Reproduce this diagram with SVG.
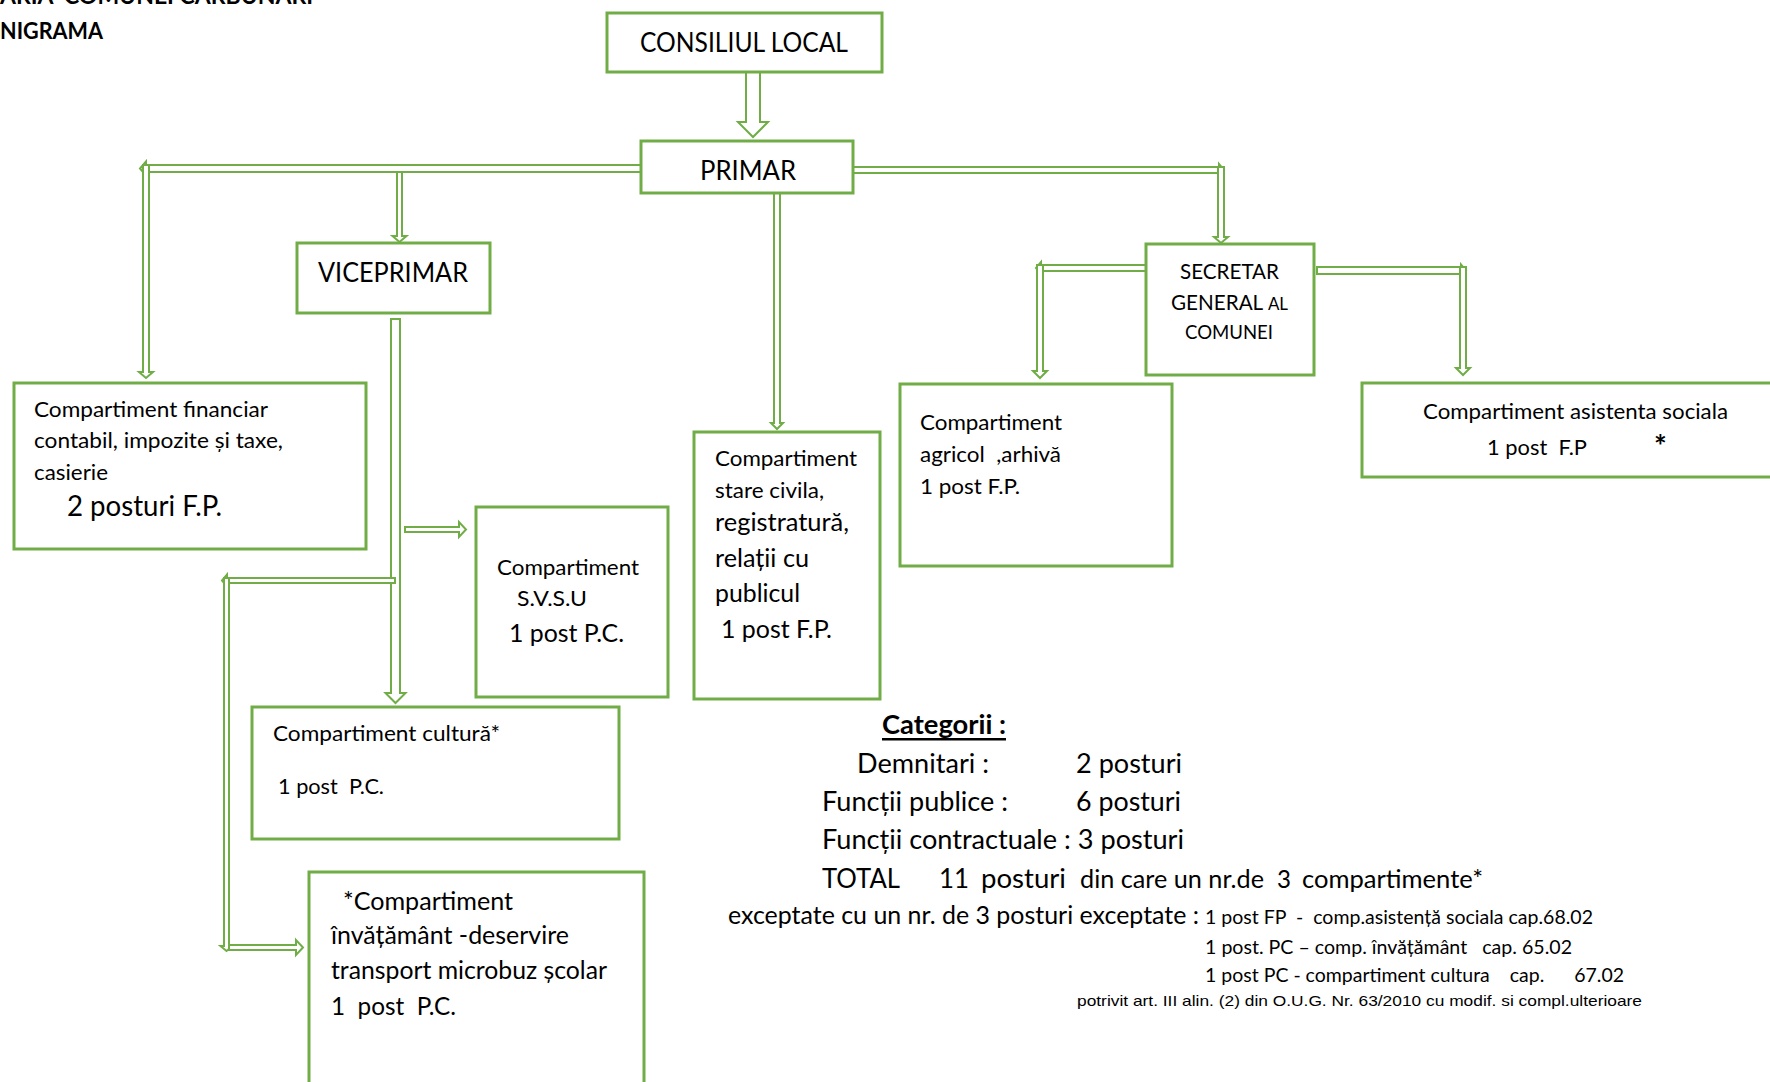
<svg xmlns="http://www.w3.org/2000/svg" width="1770" height="1082" viewBox="0 0 1770 1082">
<style>
.box{fill:#fff;stroke:#70AD47;stroke-width:3}
.arr{fill:#fff;stroke:#70AD47;stroke-width:2;stroke-linejoin:miter}
text{font-family:Lato,"Liberation Sans",sans-serif;fill:#000;white-space:pre}
.b{font-weight:bold}
.big{font-size:27px}
.s22{font-size:22px}
.s24{font-size:24.5px}
.cat{font-size:27px}
.note{font-size:19px}
.law{font-family:"Liberation Sans",Arial,sans-serif;font-size:15px}
</style>
<rect width="1770" height="1082" fill="#fff"/>
<g id="title">
<text class="b" x="0" y="4" font-size="23" textLength="313" lengthAdjust="spacingAndGlyphs">ARIA  COMUNEI CARBUNARI</text>
<text class="b" x="0" y="39" font-size="23" textLength="103" lengthAdjust="spacingAndGlyphs">NIGRAMA</text>
</g>
<g id="connectors">
<path class="arr" d="M746,72 L760,72 L760,122 L768,122 L753,137 L738,122 L746,122 Z"/>
<path class="arr" d="M641,165 L146,165 L146,161.5 L140,168.5 L146,175.5 L146,172 L641,172 Z"/>
<path class="arr" d="M143,165 L149,165 L149,372 L153,372 L146,378 L139,372 L143,372 Z"/>
<path class="arr" d="M397,172 L402,172 L402,236 L406.5,236 L399.5,242 L392.5,236 L397,236 Z"/>
<path class="arr" d="M774,193 L780,193 L780,423 L783,423 L777,429 L771,423 L774,423 Z"/>
<path class="arr" d="M853,167 L1219,167 L1219,164 L1224,170 L1219,176 L1219,173 L853,173 Z"/>
<path class="arr" d="M1218,167 L1224,167 L1224,237 L1228,237 L1221,243 L1214,237 L1218,237 Z"/>
<path class="arr" d="M1146,265 L1041,265 L1041,262 L1036,268 L1041,274 L1041,271 L1146,271 Z"/>
<path class="arr" d="M1037,265 L1043,265 L1043,371 L1047,371 L1040,378 L1033,371 L1037,371 Z"/>
<path class="arr" d="M1317,267 L1461,267 L1461,264.5 L1466,270.5 L1461,276.5 L1461,274 L1317,274 Z"/>
<path class="arr" d="M1460,267 L1466,267 L1466,368 L1470,368 L1463,375 L1456,368 L1460,368 Z"/>
<path class="arr" d="M391,319 L400,319 L400,693 L405.5,693 L395.5,703 L385.5,693 L391,693 Z"/>
<path class="arr" d="M405,527 L459,527 L459,522 L466,529.5 L459,537 L459,532 L405,532 Z"/>
<path class="arr" d="M395,578 L227,578 L227,574.5 L222,580.5 L227,586.5 L227,583 L395,583 Z"/>
<path class="arr" d="M224,578 L229,578 L229,946 L232.5,946 L226.5,951 L220.5,946 L224,946 Z"/>
<path class="arr" d="M229,945 L296,945 L296,940 L303,947.5 L296,955 L296,950 L229,950 Z"/>
</g>
<g id="consiliul-local">
<rect class="box" x="607" y="13" width="275" height="59"/>
<text class="big" x="640" y="52" textLength="208" lengthAdjust="spacingAndGlyphs">CONSILIUL LOCAL</text>
</g>
<g id="primar">
<rect class="box" x="641" y="141" width="212" height="52"/>
<text class="big" x="700" y="180" textLength="96" lengthAdjust="spacingAndGlyphs">PRIMAR</text>
</g>
<g id="viceprimar">
<rect class="box" x="297" y="243" width="193" height="70"/>
<text class="big" x="318" y="282" textLength="150" lengthAdjust="spacingAndGlyphs">VICEPRIMAR</text>
</g>
<g id="secretar">
<rect class="box" x="1146" y="244" width="168" height="131"/>
<text class="s22" x="1180" y="279" textLength="99" lengthAdjust="spacingAndGlyphs">SECRETAR</text>
<text class="s22" x="1171" y="310" textLength="117" lengthAdjust="spacingAndGlyphs">GENERAL <tspan font-size="18">AL</tspan></text>
<text x="1185" y="339" font-size="20" textLength="88" lengthAdjust="spacingAndGlyphs">COMUNEI</text>
</g>
<g id="financiar">
<rect class="box" x="14" y="383" width="352" height="166"/>
<text class="s22" x="34" y="417" textLength="234" lengthAdjust="spacingAndGlyphs">Compartiment financiar</text>
<text class="s22" x="34" y="448" textLength="249" lengthAdjust="spacingAndGlyphs">contabil, impozite și taxe,</text>
<text class="s22" x="34" y="480" textLength="74" lengthAdjust="spacingAndGlyphs">casierie</text>
<text x="67" y="516" font-size="28.5" textLength="155" lengthAdjust="spacingAndGlyphs">2 posturi F.P.</text>
</g>
<g id="svsu">
<rect class="box" x="476" y="507" width="192" height="190"/>
<text class="s22" x="497" y="575" textLength="142" lengthAdjust="spacingAndGlyphs">Compartiment</text>
<text class="s22" x="517" y="606" textLength="70" lengthAdjust="spacingAndGlyphs">S.V.S.U</text>
<text x="509" y="642" font-size="24.5" textLength="115" lengthAdjust="spacingAndGlyphs">1 post P.C.</text>
</g>
<g id="cultura">
<rect class="box" x="252" y="707" width="367" height="132"/>
<text class="s22" x="273" y="741" textLength="227" lengthAdjust="spacingAndGlyphs">Compartiment cultură*</text>
<text class="s22" x="278" y="794" textLength="106" lengthAdjust="spacingAndGlyphs">1 post  P.C.</text>
</g>
<g id="invatamant">
<rect class="box" x="309" y="872" width="335" height="230"/>
<text class="s24" x="343" y="910" textLength="170" lengthAdjust="spacingAndGlyphs">*Compartiment</text>
<text class="s24" x="331" y="944" textLength="238" lengthAdjust="spacingAndGlyphs">învățământ -deservire</text>
<text class="s24" x="331" y="979" textLength="276" lengthAdjust="spacingAndGlyphs">transport microbuz școlar</text>
<text class="s24" x="331" y="1015" textLength="125" lengthAdjust="spacingAndGlyphs">1  post  P.C.</text>
</g>
<g id="stare-civila">
<rect class="box" x="694" y="432" width="186" height="267"/>
<text class="s22" x="715" y="466" textLength="142" lengthAdjust="spacingAndGlyphs">Compartiment</text>
<text class="s22" x="715" y="498" textLength="109" lengthAdjust="spacingAndGlyphs">stare civila,</text>
<text class="s24" x="715" y="531" textLength="134" lengthAdjust="spacingAndGlyphs">registratură,</text>
<text class="s24" x="715" y="567" textLength="94" lengthAdjust="spacingAndGlyphs">relații cu</text>
<text class="s24" x="715" y="602" textLength="85" lengthAdjust="spacingAndGlyphs">publicul</text>
<text class="s24" x="721" y="638" textLength="111" lengthAdjust="spacingAndGlyphs">1 post F.P.</text>
</g>
<g id="agricol">
<rect class="box" x="900" y="384" width="272" height="182"/>
<text class="s22" x="920" y="430" textLength="142" lengthAdjust="spacingAndGlyphs">Compartiment</text>
<text class="s22" x="920" y="462" textLength="141" lengthAdjust="spacingAndGlyphs">agricol  ,arhivă</text>
<text class="s22" x="920" y="494" textLength="100" lengthAdjust="spacingAndGlyphs">1 post F.P.</text>
</g>
<g id="asistenta">
<rect class="box" x="1362" y="383" width="420" height="94"/>
<text class="s22" x="1423" y="419" textLength="305" lengthAdjust="spacingAndGlyphs">Compartiment asistenta sociala</text>
<text class="s22" x="1487" y="455" textLength="100" lengthAdjust="spacingAndGlyphs">1 post  F.P</text>
<text class="b" x="1654" y="457" font-size="30">*</text>
</g>
<g id="categorii">
<text class="cat b" x="882" y="734" textLength="124" lengthAdjust="spacingAndGlyphs">Categorii :</text>
<rect x="882" y="738" width="124" height="2.5" fill="#000"/>
<text class="cat" x="857" y="773" textLength="132" lengthAdjust="spacingAndGlyphs">Demnitari :</text>
<text class="cat" x="1076" y="773" textLength="106" lengthAdjust="spacingAndGlyphs">2 posturi</text>
<text class="cat" x="822" y="811" textLength="186" lengthAdjust="spacingAndGlyphs">Funcții publice :</text>
<text class="cat" x="1076" y="811" textLength="105" lengthAdjust="spacingAndGlyphs">6 posturi</text>
<text class="cat" x="822" y="849" textLength="362" lengthAdjust="spacingAndGlyphs">Funcții contractuale : 3 posturi</text>
<text class="cat" x="822" y="888" textLength="78" lengthAdjust="spacingAndGlyphs">TOTAL</text>
<text class="cat" x="939" y="888" textLength="30" lengthAdjust="spacingAndGlyphs">11</text>
<text class="cat" x="981" y="888" textLength="85" lengthAdjust="spacingAndGlyphs">posturi</text>
<text x="1080" y="888" font-size="25" textLength="184" lengthAdjust="spacingAndGlyphs">din care un nr.de</text>
<text x="1277" y="888" font-size="25" textLength="14" lengthAdjust="spacingAndGlyphs">3</text>
<text x="1302" y="888" font-size="25" textLength="181" lengthAdjust="spacingAndGlyphs">compartimente*</text>
<text x="728" y="924" font-size="25" textLength="471" lengthAdjust="spacingAndGlyphs">exceptate cu un nr. de 3 posturi exceptate :</text>
<text class="note" x="1205" y="924" textLength="388" lengthAdjust="spacingAndGlyphs">1 post FP  -  comp.asistență sociala cap.68.02</text>
<text class="note" x="1205" y="954" textLength="367" lengthAdjust="spacingAndGlyphs">1 post. PC – comp. învățământ   cap. 65.02</text>
<text class="note" x="1205" y="982" textLength="419" lengthAdjust="spacingAndGlyphs">1 post PC - compartiment cultura    cap.      67.02</text>
<text class="law" x="1077" y="1006" textLength="565" lengthAdjust="spacingAndGlyphs">potrivit art. III alin. (2) din O.U.G. Nr. 63/2010 cu modif. si compl.ulterioare</text>
</g>
</svg>
